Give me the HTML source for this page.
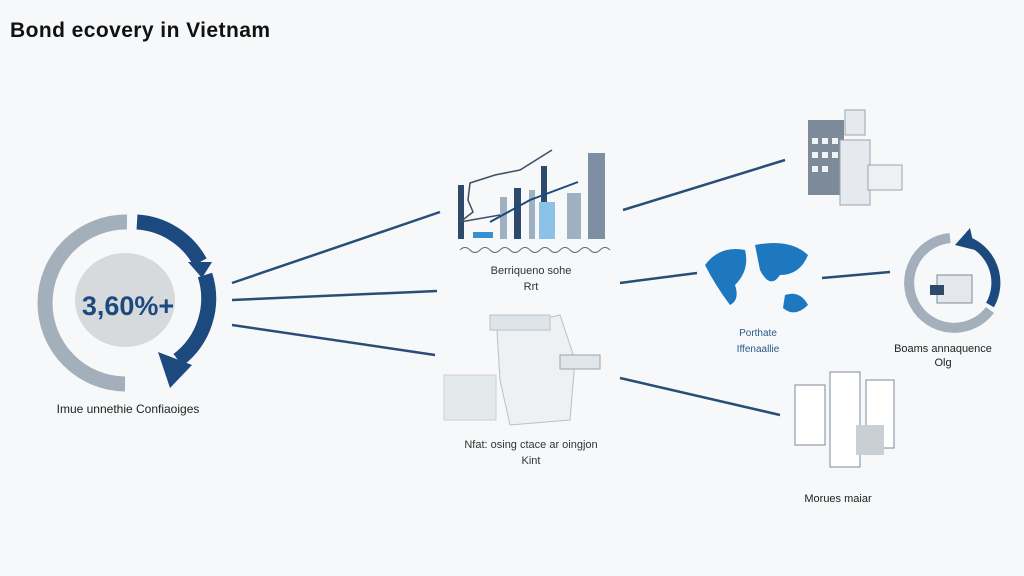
<!DOCTYPE html><html><head><style>body{margin:0;background:#f6f8f9;}svg{display:block}</style></head><body>
<svg width="1024" height="576" viewBox="0 0 1024 576" xmlns="http://www.w3.org/2000/svg" font-family="Liberation Sans, sans-serif">
<rect width="1024" height="576" fill="#f6f8f9"/>
<text x="10" y="37" font-size="21" fill="#111" font-weight="bold" textLength="260">Bond ecovery in Vietnam</text>
<!-- left circle -->
<ellipse cx="125" cy="300" rx="50" ry="47" fill="#d6dadd"/>
<path d="M127 222 A77 77 0 0 0 125 384" fill="none" stroke="#a3afbb" stroke-width="15"/>
<path d="M137 222 A77 77 0 0 1 200 262" fill="none" stroke="#1c4a7e" stroke-width="15"/>
<path d="M205 275 A77 77 0 0 1 178 360" fill="none" stroke="#1c4a7e" stroke-width="15"/>
<polygon points="158,352 192,365 170,388" fill="#1c4a7e"/>
<polygon points="188,262 212,262 202,278" fill="#1c4a7e"/>
<text x="128" y="315" font-size="27" fill="#1c4a7e" text-anchor="middle" font-weight="bold">3,60%+</text>
<text x="128" y="413" font-size="12" fill="#222" text-anchor="middle">Imue unnethie Confiaoiges</text>
<!-- lines -->
<g stroke="#2a4d78" stroke-width="2.5">
<line x1="232" y1="283" x2="440" y2="212"/><line x1="232" y1="300" x2="437" y2="291"/><line x1="232" y1="325" x2="435" y2="355"/>
<line x1="623" y1="210" x2="785" y2="160"/><line x1="620" y1="283" x2="697" y2="273"/><line x1="620" y1="378" x2="780" y2="415"/><line x1="822" y1="278" x2="890" y2="272"/>
</g>
<!-- chart -->
<g>
<rect x="458" y="185" width="6" height="54" fill="#2d4a6c"/>
<rect x="473" y="232" width="20" height="6" fill="#3a8fd0"/>
<rect x="500" y="197" width="7" height="42" fill="#9fb0c0"/>
<rect x="514" y="188" width="7" height="51" fill="#2d4a6c"/>
<rect x="529" y="190" width="6" height="49" fill="#9fb0c0"/>
<rect x="541" y="166" width="6" height="73" fill="#2d4a6c"/>
<rect x="539" y="202" width="16" height="37" fill="#8cc2e8"/>
<rect x="567" y="193" width="14" height="46" fill="#9fb0c0"/>
<rect x="588" y="153" width="17" height="86" fill="#7f8fa3"/>
<polyline points="552,150 520,170 495,175 470,183 468,200 473,212 460,222 500,215" fill="none" stroke="#3d4f66" stroke-width="1.5"/>
<polyline points="490,222 530,200 578,182" fill="none" stroke="#1c4a7e" stroke-width="2"/>
<path d="M460 250 q5 -5 10 0 t10 0 t10 0 t10 0 t10 0 t10 0 t10 0 t10 0 t10 0 t10 0 t10 0 t10 0 t10 0 t10 0 t10 0" fill="none" stroke="#666" stroke-width="1"/>
</g>
<text x="531" y="274" font-size="11" fill="#333" text-anchor="middle">Berriqueno sohe</text>
<text x="531" y="290" font-size="11" fill="#333" text-anchor="middle">Rrt</text>
<!-- machine -->
<rect x="444" y="375" width="52" height="45" fill="#e4e9ec" stroke="#c9d1d6"/>
<path d="M497 330 L560 315 L575 360 L570 420 L510 425 L500 380 Z" fill="#eef1f3" stroke="#b8c1c8"/>
<rect x="490" y="315" width="60" height="15" fill="#dfe4e8" stroke="#b8c1c8"/>
<rect x="560" y="355" width="40" height="14" fill="#e1e6ea" stroke="#98a3ad"/>
<text x="531" y="448" font-size="11" fill="#333" text-anchor="middle">Nfat: osing ctace ar oingjon</text>
<text x="531" y="464" font-size="11" fill="#333" text-anchor="middle">Kint</text>
<!-- building -->
<rect x="808" y="120" width="36" height="75" fill="#7d8a99"/>
<g fill="#f0f3f5"><rect x="812" y="138" width="6" height="6"/><rect x="822" y="138" width="6" height="6"/><rect x="832" y="138" width="6" height="6"/><rect x="812" y="152" width="6" height="6"/><rect x="822" y="152" width="6" height="6"/><rect x="832" y="152" width="6" height="6"/><rect x="812" y="166" width="6" height="6"/><rect x="822" y="166" width="6" height="6"/></g>
<rect x="840" y="140" width="30" height="65" fill="#e6eaee" stroke="#9aa5b0"/>
<rect x="868" y="165" width="34" height="25" fill="#eef1f3" stroke="#9aa5b0"/>
<rect x="845" y="110" width="20" height="25" fill="#e6eaee" stroke="#9aa5b0"/>
<!-- world -->
<path d="M705 265 Q720 245 745 250 Q750 270 735 285 Q740 300 730 305 Q715 285 705 265 Z M755 245 Q790 238 808 255 Q800 275 780 275 Q770 290 760 270 Z M785 295 Q800 290 808 305 Q795 318 783 308 Z" fill="#1e78c0"/>
<text x="758" y="336" font-size="10" fill="#2a5a8a" text-anchor="middle">Porthate</text>
<text x="758" y="352" font-size="10" fill="#2a5a8a" text-anchor="middle">Iffenaallie</text>
<!-- right circle -->
<path d="M950 238 A45 45 0 1 0 990 310" fill="none" stroke="#a3afbb" stroke-width="10"/>
<path d="M965 240 A45 45 0 0 1 990 305" fill="none" stroke="#1c4a7e" stroke-width="9"/>
<polygon points="955,245 970,228 975,250" fill="#1c4a7e"/>
<rect x="937" y="275" width="35" height="28" fill="#e4e8ec" stroke="#7d8a99"/>
<rect x="930" y="285" width="14" height="10" fill="#2d4a6c"/>
<text x="943" y="352" font-size="11" fill="#222" text-anchor="middle">Boams annaquence</text>
<text x="943" y="366" font-size="11" fill="#222" text-anchor="middle">Olg</text>
<!-- docs -->
<rect x="795" y="385" width="30" height="60" fill="#fff" stroke="#7d8a99"/>
<rect x="830" y="372" width="30" height="95" fill="#fff" stroke="#7d8a99"/>
<rect x="866" y="380" width="28" height="68" fill="#fff" stroke="#7d8a99"/>
<rect x="856" y="425" width="28" height="30" fill="#c9cfd5"/>
<text x="838" y="502" font-size="11" fill="#222" text-anchor="middle">Morues maiar</text>
</svg></body></html>
